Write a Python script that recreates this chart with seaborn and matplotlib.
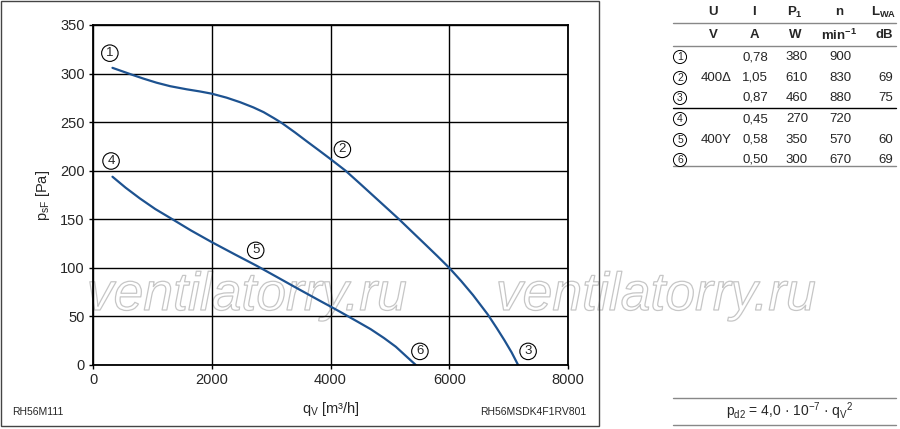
import numpy as np
import pandas as pd
import matplotlib
matplotlib.use("Agg")
import matplotlib.pyplot as plt
import matplotlib.patheffects as pe
from matplotlib.patches import Rectangle
import seaborn as sns

sns.set_theme(style="white")
plt.rcParams['font.family'] = ['Liberation Sans', 'DejaVu Sans']
plt.rcParams['mathtext.default'] = 'regular'

# curve: delta connection 1-2-3
q_delta = [328, 500, 676, 850, 1071, 1300, 1578, 1800, 2000, 2250, 2479, 2700,
           2873, 3050, 3183, 3400, 3606, 3800, 4000, 4254, 4500, 4800, 5155,
           5400, 5600, 5800, 6000, 6200, 6400, 6649, 6800, 6930, 7050, 7160]
p_delta = [305.9, 302.2, 298.4, 294.8, 290.6, 287.0, 283.8, 281.6, 279.3, 275.2,
           270.5, 265.2, 260.3, 254.0, 249.0, 239.5, 230.0, 221.2, 212.0, 200.0,
           186.5, 169.8, 150.0, 135.6, 123.9, 112.1, 100.0, 86.5, 72.0, 52.0,
           38.0, 25.4, 13.0, 0.0]

# star connection 4-5-6
q_star = [328, 550, 789, 1050, 1352, 1650, 2000, 2400, 2761, 3100, 3437, 3836,
          4000, 4172, 4450, 4676, 4900, 5100, 5300, 5437]
p_star = [193.8, 182.5, 171.5, 160.5, 149.5, 138.5, 126.5, 113.5, 102.0, 90.5,
          79.0, 65.6, 60.2, 54.4, 44.8, 36.9, 27.8, 18.8, 7.6, 0.0]

# operating point markers on the curves
point_ids = ["1", "2", "3", "4", "5", "6"]
point_q = [284, 4200, 7328, 304, 2740, 5506]
point_p = [321, 222, 14, 210, 118, 14]

x_ticks = [0, 2000, 4000, 6000, 8000]
y_ticks = [0, 50, 100, 150, 200, 250, 300, 350]

# table
head_top = ["U", "I", "P$_1$", "n", "L$_{WA}$"]
head_units = ["V", "A", "W", "min$^{-1}$", "dB"]
volt_labels = ["", "400Δ", "", "", "400Y", ""]
current_a = ["0,78", "1,05", "0,87", "0,45", "0,58", "0,50"]
power_w = ["380", "610", "460", "270", "350", "300"]
speed_rpm = ["900", "830", "880", "720", "570", "670"]
noise_db = ["", "69", "75", "", "60", "69"]

line_col = "#1d5290"

df = pd.concat([
    pd.DataFrame({"q": q_delta, "p": p_delta, "curve": "delta"}),
    pd.DataFrame({"q": q_star, "p": p_star, "curve": "star"}),
])

W, H = 900, 429
fig = plt.figure(figsize=(9, 4.29), dpi=100)


def fx(x):
    return x / W


def fy(y):
    return 1 - y / H


# frame around the chart part
fig.patches.append(Rectangle((fx(1), fy(426)), fx(599) - fx(1), fy(1) - fy(426),
                             transform=fig.transFigure, fill=False,
                             edgecolor="#444444", linewidth=1.0))

ax = fig.add_axes([fx(93), fy(365), fx(568) - fx(93), fy(25) - fy(365)])
ax.patch.set_visible(False)
sns.lineplot(data=df, x="q", y="p", hue="curve", units="curve", estimator=None,
             sort=False, palette=[line_col, line_col], linewidth=1.6,
             legend=False, ax=ax)
ax.set_xlim(0, 8000)
ax.set_ylim(0, 350)
ax.set_xticks(x_ticks)
ax.set_yticks(y_ticks)
ax.grid(True, color="black", linewidth=1.0)
for s in ax.spines.values():
    s.set_color("black")
    s.set_linewidth(1.3)
ax.tick_params(axis="both", direction="out", length=3, width=1, color="black",
               labelsize=10.5, pad=3, bottom=True, left=True)
ax.set_xlabel("q$_V$ [m³/h]", fontsize=10.5, labelpad=9)
ax.set_ylabel("p$_{sF}$ [Pa]", fontsize=10.5, labelpad=6)

for pid, xq, yp in zip(point_ids, point_q, point_p):
    ax.text(xq, yp, pid, fontsize=9.5, ha="center", va="center", zorder=5,
            bbox=dict(boxstyle="circle,pad=0.17", fc="white", ec="black", lw=0.8))

fig.text(fx(12), fy(412), "RH56M111", fontsize=7.5, ha="left", va="center")
fig.text(fx(586), fy(412), "RH56MSDK4F1RV801", fontsize=7.5, ha="right", va="center")

# table on the right
col_x = [713, 754, 795, 839, 884]
for cx, t1, t2 in zip(col_x, head_top, head_units):
    fig.text(fx(cx), fy(12), t1, fontsize=9.5, fontweight="bold", ha="center", va="center")
    fig.text(fx(cx), fy(35), t2, fontsize=9.5, fontweight="bold", ha="center", va="center")

row_y = [57, 78, 98, 119, 140, 160]
for i, ry in enumerate(row_y):
    fig.text(fx(680), fy(ry), point_ids[i], fontsize=7.5, ha="center", va="center",
             bbox=dict(boxstyle="circle,pad=0.15", fc="white", ec="black", lw=0.7))
    fig.text(fx(716), fy(ry), volt_labels[i], fontsize=9.5, ha="center", va="center")
    fig.text(fx(755), fy(ry), current_a[i], fontsize=9.5, ha="center", va="center")
    fig.text(fx(797), fy(ry), power_w[i], fontsize=9.5, ha="center", va="center")
    fig.text(fx(840), fy(ry), speed_rpm[i], fontsize=9.5, ha="center", va="center")
    fig.text(fx(886), fy(ry), noise_db[i], fontsize=9.5, ha="center", va="center")

for ly, col in [(23, "#888888"), (46, "#888888"), (108, "black"), (166, "#888888"),
                (398, "#888888"), (425, "#888888")]:
    fig.add_artist(plt.Line2D([fx(673), fx(896)], [fy(ly), fy(ly)],
                              transform=fig.transFigure, color=col, linewidth=1.0))

fig.text(fx(790), fy(411), "p$_{d2}$ = 4,0 · 10$^{-7}$ · q$_V$$^2$", fontsize=10,
         ha="center", va="center")

# watermark, outline only, below grid and curves
for cx in [247, 656]:
    fig.text(fx(cx), fy(310), "ventilatorry.ru", fontsize=38.5, style="italic",
             color="none", ha="center", va="baseline", zorder=-1,
             path_effects=[pe.Stroke(linewidth=0.9, foreground="#c6c6c6")])

fig.savefig("out.png", dpi=100)
